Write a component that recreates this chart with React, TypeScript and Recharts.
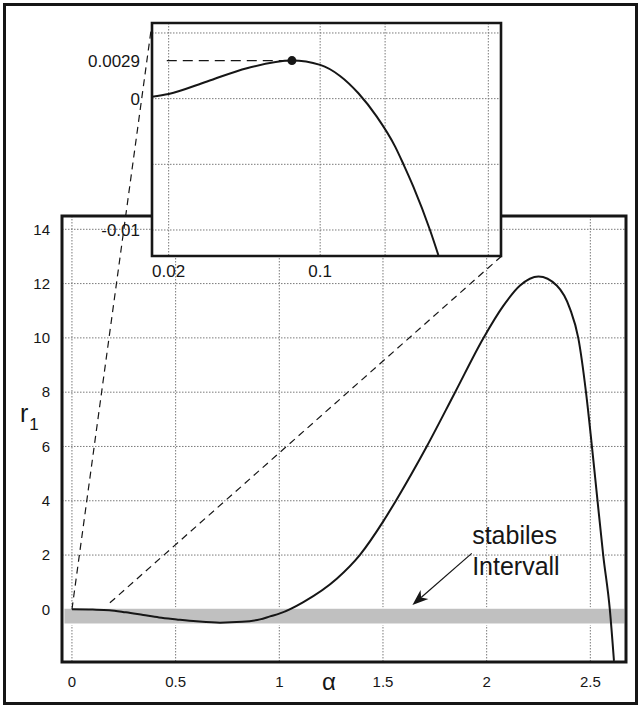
import {
  LineChart,
  Line,
  XAxis,
  YAxis,
  CartesianGrid,
  ReferenceArea,
  ReferenceLine,
  ReferenceDot,
} from "recharts";

// main curve r1(alpha)
const alphaValues = [
  0, 0.1, 0.18, 0.26, 0.344, 0.42, 0.505, 0.6, 0.714, 0.82, 0.907, 0.955,
  1.003, 1.116, 1.277, 1.389, 1.502, 1.566, 1.711, 1.848, 1.984, 2.081, 2.161,
  2.25, 2.338, 2.402, 2.442, 2.479, 2.505, 2.532, 2.562, 2.594, 2.614,
];
const r1Values = [
  0, -0.01, -0.03, -0.11, -0.21, -0.3, -0.37, -0.44, -0.49, -0.46, -0.37,
  -0.26, -0.15, 0.27, 1.13, 2.01, 3.25, 4.05, 6.0, 8.0, 9.99, 11.19, 11.93,
  12.26, 11.93, 11.07, 9.99, 8.0, 6.2, 4.2, 2.0, 0, -1.9,
];

// zoomed view near alpha = 0
const insetAlpha = [
  0.0112, 0.02, 0.0403, 0.0613, 0.0851, 0.1, 0.1105, 0.1202, 0.1299, 0.1396,
  0.144, 0.1492, 0.158, 0.1624,
];
const insetR1 = [
  0.00015, 0.00036, 0.00131, 0.00232, 0.0029, 0.00257, 0.00173, 0.00041,
  -0.00137, -0.00365, -0.005, -0.0067, -0.01, -0.0119,
];

const mainXTicks = [0, 0.5, 1, 1.5, 2, 2.5];
const mainYTicks = [0, 2, 4, 6, 8, 10, 12, 14];
const mainXDomain = [-0.048, 2.672];
const mainYDomain = [-1.94, 14.49];

const insetXTicks = [0.02, 0.1];
const insetXGrid = [0.02, 0.1, 0.1343, 0.1888];
const insetYTicks = [-0.01, 0, 0.0029];
const insetYGrid = [-0.01, -0.005, 0, 0.005];
const insetXDomain = [0.0112, 0.1955];
const insetYDomain = [-0.01198, 0.00576];

const peakAlpha = 0.0851;
const peakR1 = 0.0029;

// stable interval band (alpha range, r1 thickness)
const bandAlpha = [-0.04, 2.668];
const bandR1 = [-0.55, 0.05];

// connector lines from main plot to inset corners
const connectorA = [
  { x: 0, y: 0 },
  { x: 0.386, y: 21.59 },
];
const connectorB = [
  { x: 0.183, y: 0.24 },
  { x: 2.07, y: 13.0 },
];
const arrowSeg = [
  { x: 1.928, y: 2.06 },
  { x: 1.642, y: 0.16 },
];
const annotationAt = { x: 1.93, y: 2.41 };
const annotationLines = ["stabiles", "Intervall"];

const mainData = alphaValues.map((a, i) => ({ a, r: r1Values[i] }));
const insetData = insetAlpha.map((a, i) => ({ a, r: insetR1[i] }));

const INK = "#161616";
const GRID = "#7a7a7a";

const ArrowShape = (p: any) => {
  const { x1, y1, x2, y2 } = p;
  const ang = Math.atan2(y2 - y1, x2 - x1);
  const c = Math.cos(ang);
  const s = Math.sin(ang);
  const len = 16;
  const half = 6;
  const bx = x2 - len * c;
  const by = y2 - len * s;
  const nx = x2 - len * 0.72 * c;
  const ny = y2 - len * 0.72 * s;
  const pts = [
    [x2, y2],
    [bx - half * s, by + half * c],
    [nx, ny],
    [bx + half * s, by - half * c],
  ]
    .map((q) => q.join(","))
    .join(" ");
  return (
    <g>
      <line x1={x1} y1={y1} x2={nx} y2={ny} stroke={INK} strokeWidth={1.2} />
      <polygon points={pts} fill={INK} />
    </g>
  );
};

const AnnotationShape = (p: any) => (
  <text x={p.cx} y={p.cy} fill={INK} fontSize={25}>
    {annotationLines.map((t, i) => (
      <tspan key={t} x={p.cx} dy={i === 0 ? 0 : 31}>
        {t}
      </tspan>
    ))}
  </text>
);

const R1Label = (props: any) => {
  const vb = props.viewBox || { x: 0, y: 216, height: 446 };
  return (
    <text x={vb.x + 20} y={vb.y + vb.height / 2 - 17} fill={INK} fontSize={25}>
      r
      <tspan fontSize={17} dx={1} dy={8}>
        1
      </tspan>
    </text>
  );
};

const AlphaLabel = (props: any) => {
  const vb = props.viewBox || { x: 62, y: 662 };
  return (
    <text
      x={vb.x + 267}
      y={vb.y + 28}
      fill={INK}
      fontSize={24}
      textAnchor="middle"
    >
      α
    </text>
  );
};

function MainChart() {
  return (
    <LineChart
      width={640}
      height={706}
      data={mainData}
      margin={{ top: 216, right: 14, bottom: 14, left: 0 }}
    >
      <CartesianGrid stroke={GRID} strokeDasharray="1.5 1.5" />
      <XAxis
        type="number"
        dataKey="a"
        domain={mainXDomain}
        ticks={mainXTicks}
        allowDataOverflow
        axisLine={false}
        tickLine={false}
        tickSize={0}
        tickMargin={14}
        height={30}
        tick={{ fontSize: 15, fill: INK }}
        label={{ content: AlphaLabel }}
      />
      <YAxis
        type="number"
        domain={mainYDomain}
        ticks={mainYTicks}
        allowDataOverflow
        axisLine={false}
        tickLine={false}
        tickSize={0}
        tickMargin={12}
        width={62}
        tick={{ fontSize: 15, fill: INK }}
        label={{ content: R1Label }}
      />
      <ReferenceArea
        x1={bandAlpha[0]}
        x2={bandAlpha[1]}
        y1={bandR1[0]}
        y2={bandR1[1]}
        fill="#c0c0c0"
        fillOpacity={1}
        stroke="#ffffff"
        strokeWidth={1.5}
      />
      <ReferenceLine
        segment={connectorA}
        stroke={INK}
        strokeWidth={1.2}
        strokeDasharray="7 5"
        ifOverflow="visible"
      />
      <ReferenceLine
        segment={connectorB}
        stroke={INK}
        strokeWidth={1.2}
        strokeDasharray="7 5"
        ifOverflow="visible"
      />
      <ReferenceLine segment={arrowSeg} shape={ArrowShape} ifOverflow="visible" />
      <ReferenceDot
        x={annotationAt.x}
        y={annotationAt.y}
        r={0}
        shape={AnnotationShape}
        ifOverflow="visible"
      />
      <Line
        type="monotone"
        dataKey="r"
        stroke={INK}
        strokeWidth={2}
        dot={false}
        activeDot={false}
        isAnimationActive={false}
      />
      <ReferenceArea
        x1={mainXDomain[0]}
        x2={mainXDomain[1]}
        y1={mainYDomain[0]}
        y2={mainYDomain[1]}
        fill="none"
        stroke={INK}
        strokeWidth={3}
        ifOverflow="visible"
      />
    </LineChart>
  );
}

function InsetChart() {
  return (
    <LineChart
      width={450}
      height={290}
      data={insetData}
      margin={{ top: 23, right: 9, bottom: 4, left: 0 }}
    >
      <CartesianGrid
        stroke={GRID}
        strokeDasharray="1.5 1.5"
        fill="#ffffff"
        fillOpacity={1}
        horizontalValues={insetYGrid}
        verticalValues={insetXGrid}
      />
      <XAxis
        type="number"
        dataKey="a"
        domain={insetXDomain}
        ticks={insetXTicks}
        allowDataOverflow
        axisLine={false}
        tickLine={false}
        tickSize={0}
        tickMargin={9}
        height={30}
        tick={{ fontSize: 17, fill: INK }}
      />
      <YAxis
        type="number"
        domain={insetYDomain}
        ticks={insetYTicks}
        allowDataOverflow
        axisLine={false}
        tickLine={false}
        tickSize={0}
        tickMargin={12}
        width={92}
        tick={{ fontSize: 17, fill: INK }}
      />
      <ReferenceLine
        segment={[
          { x: 0.019, y: peakR1 },
          { x: peakAlpha, y: peakR1 },
        ]}
        stroke={INK}
        strokeWidth={1.3}
        strokeDasharray="10 6"
      />
      <Line
        type="monotone"
        dataKey="r"
        stroke={INK}
        strokeWidth={2}
        dot={false}
        activeDot={false}
        isAnimationActive={false}
      />
      <ReferenceDot x={peakAlpha} y={peakR1} r={4.5} fill={INK} stroke="none" />
      <ReferenceArea
        x1={insetXDomain[0]}
        x2={insetXDomain[1]}
        y1={insetYDomain[0]}
        y2={insetYDomain[1]}
        fill="none"
        stroke={INK}
        strokeWidth={2.6}
        ifOverflow="visible"
      />
    </LineChart>
  );
}

export default function App() {
  return (
    <div
      style={{
        position: "absolute",
        left: 0,
        top: 0,
        width: 640,
        height: 706,
        background: "#fff",
        fontFamily: "'Liberation Sans', Arial, sans-serif",
      }}
    >
      <MainChart />
      <div style={{ position: "absolute", left: 60, top: 0 }}>
        <InsetChart />
      </div>
      <div
        style={{
          position: "absolute",
          left: 3,
          top: 3,
          width: 635,
          height: 702,
          border: `3px solid ${INK}`,
          boxSizing: "border-box",
          pointerEvents: "none",
        }}
      />
    </div>
  );
}
